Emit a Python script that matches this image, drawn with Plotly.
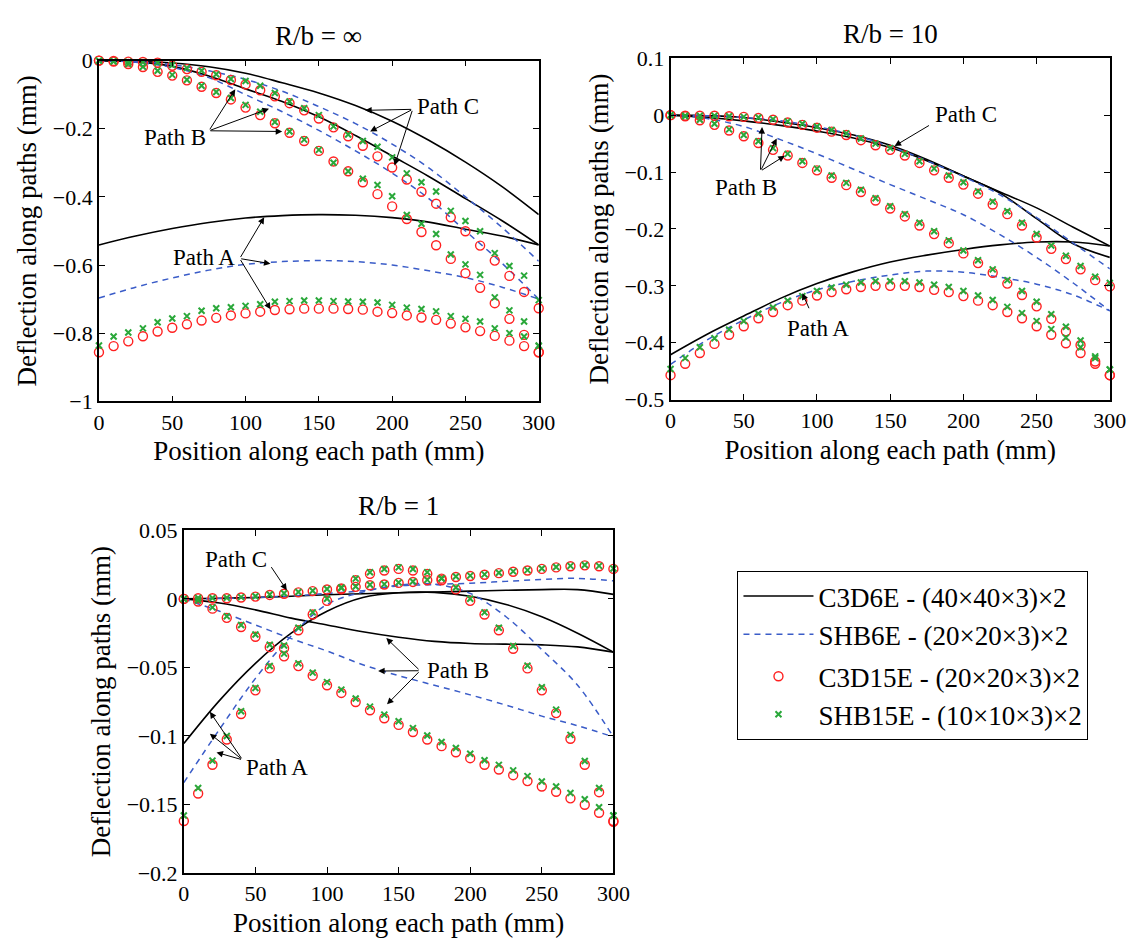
import plotly.graph_objects as go

# ---------------- data ----------------
LINE_X = list(range(0, 301, 25))
MARK_X = list(range(0, 301, 10))
X_TICKS = [0, 50, 100, 150, 200, 250, 300]

MODELS = ["C3D6E - (40×40×3)×2", "SHB6E - (20×20×3)×2",
          "C3D15E - (20×20×3)×2", "SHB15E - (10×10×3)×2"]
TITLES = ["R/b = ∞", "R/b = 10", "R/b = 1"]

# R/b = inf
inf_A_c3d6 = [-0.541, -0.515, -0.493, -0.475, -0.462, -0.455, -0.452, -0.454, -0.461, -0.474, -0.495, -0.515, -0.541]
inf_B_c3d6 = [0, -0.003, -0.017, -0.045, -0.083, -0.12, -0.165, -0.22, -0.28, -0.34, -0.405, -0.47, -0.541]
inf_C_c3d6 = [0, -0.002, -0.007, -0.018, -0.037, -0.065, -0.095, -0.132, -0.178, -0.234, -0.298, -0.37, -0.452]
inf_A_shb6 = [-0.697, -0.665, -0.638, -0.615, -0.598, -0.590, -0.587, -0.59, -0.60, -0.617, -0.637, -0.665, -0.70]
inf_B_shb6 = [0, -0.005, -0.02, -0.05, -0.1, -0.15, -0.205, -0.265, -0.33, -0.405, -0.50, -0.595, -0.70]
inf_C_shb6 = [0, -0.003, -0.012, -0.03, -0.055, -0.09, -0.135, -0.185, -0.245, -0.315, -0.40, -0.49, -0.589]
inf_A_c3d15 = [-0.856, -0.838, -0.824, -0.809, -0.795, -0.784, -0.774, -0.763, -0.755, -0.748, -0.742, -0.737, -0.732, -0.730, -0.728, -0.728, -0.728, -0.729, -0.731, -0.737, -0.741, -0.748, -0.754, -0.761, -0.772, -0.783, -0.794, -0.808, -0.822, -0.838, -0.856]
inf_B_c3d15 = [0, -0.003, -0.010, -0.019, -0.033, -0.044, -0.058, -0.077, -0.095, -0.114, -0.138, -0.160, -0.184, -0.212, -0.236, -0.265, -0.296, -0.325, -0.357, -0.392, -0.428, -0.465, -0.503, -0.542, -0.582, -0.624, -0.667, -0.712, -0.758, -0.805, -0.856]
inf_C_c3d15 = [0, -0.001, -0.003, -0.004, -0.006, -0.015, -0.025, -0.033, -0.043, -0.057, -0.070, -0.087, -0.105, -0.125, -0.146, -0.170, -0.196, -0.222, -0.250, -0.281, -0.314, -0.349, -0.385, -0.420, -0.460, -0.501, -0.543, -0.587, -0.632, -0.679, -0.727]
inf_A_shb15 = [-0.836, -0.810, -0.798, -0.786, -0.768, -0.757, -0.750, -0.734, -0.727, -0.724, -0.720, -0.715, -0.708, -0.706, -0.704, -0.704, -0.706, -0.707, -0.708, -0.710, -0.717, -0.725, -0.729, -0.736, -0.750, -0.758, -0.766, -0.786, -0.800, -0.810, -0.836]
inf_B_shb15 = [0, -0.003, -0.010, -0.018, -0.030, -0.042, -0.056, -0.074, -0.092, -0.110, -0.130, -0.150, -0.180, -0.208, -0.232, -0.262, -0.300, -0.325, -0.347, -0.365, -0.398, -0.453, -0.479, -0.509, -0.569, -0.598, -0.629, -0.695, -0.733, -0.766, -0.838]
inf_C_shb15 = [0, -0.001, -0.003, -0.004, -0.006, -0.013, -0.022, -0.030, -0.040, -0.054, -0.060, -0.074, -0.095, -0.120, -0.140, -0.160, -0.193, -0.217, -0.236, -0.253, -0.284, -0.331, -0.357, -0.384, -0.441, -0.471, -0.501, -0.565, -0.603, -0.631, -0.703]

# R/b = 10
r10_A_c3d6 = [-0.421, -0.385, -0.353, -0.322, -0.296, -0.275, -0.258, -0.246, -0.236, -0.228, -0.223, -0.223, -0.23]
r10_B_c3d6 = [0, -0.004, -0.01, -0.018, -0.028, -0.04, -0.057, -0.08, -0.107, -0.135, -0.163, -0.197, -0.23]
r10_C_c3d6 = [0, -0.001, -0.004, -0.012, -0.022, -0.035, -0.053, -0.078, -0.107, -0.137, -0.182, -0.226, -0.25]
r10_A_shb6 = [-0.438, -0.395, -0.36, -0.33, -0.307, -0.292, -0.281, -0.274, -0.276, -0.285, -0.297, -0.316, -0.344]
r10_B_shb6 = [0, -0.006, -0.02, -0.043, -0.068, -0.095, -0.122, -0.148, -0.175, -0.21, -0.25, -0.295, -0.344]
r10_C_shb6 = [0, -0.001, -0.004, -0.01, -0.02, -0.035, -0.055, -0.08, -0.108, -0.14, -0.18, -0.225, -0.27]
r10_A_c3d15 = [-0.457, -0.437, -0.418, -0.402, -0.386, -0.371, -0.357, -0.346, -0.334, -0.326, -0.317, -0.311, -0.306, -0.302, -0.300, -0.300, -0.300, -0.302, -0.307, -0.311, -0.318, -0.326, -0.334, -0.346, -0.357, -0.371, -0.386, -0.401, -0.418, -0.437, -0.457]
r10_B_c3d15 = [0, -0.002, -0.009, -0.017, -0.027, -0.037, -0.049, -0.061, -0.071, -0.084, -0.097, -0.110, -0.123, -0.135, -0.150, -0.164, -0.178, -0.194, -0.209, -0.225, -0.243, -0.260, -0.277, -0.296, -0.316, -0.336, -0.358, -0.380, -0.404, -0.433, -0.457]
r10_C_c3d15 = [0, -0.001, -0.001, -0.001, -0.002, -0.003, -0.005, -0.008, -0.013, -0.017, -0.022, -0.029, -0.035, -0.044, -0.053, -0.061, -0.071, -0.084, -0.097, -0.110, -0.122, -0.138, -0.157, -0.174, -0.194, -0.215, -0.235, -0.253, -0.271, -0.290, -0.301]
r10_A_shb15 = [-0.446, -0.427, -0.408, -0.392, -0.377, -0.362, -0.349, -0.338, -0.326, -0.318, -0.309, -0.303, -0.298, -0.294, -0.292, -0.292, -0.292, -0.294, -0.298, -0.302, -0.309, -0.317, -0.325, -0.337, -0.348, -0.362, -0.376, -0.391, -0.408, -0.427, -0.447]
r10_B_shb15 = [0, -0.002, -0.008, -0.015, -0.025, -0.035, -0.046, -0.058, -0.068, -0.081, -0.094, -0.106, -0.119, -0.131, -0.146, -0.160, -0.174, -0.189, -0.204, -0.220, -0.238, -0.255, -0.271, -0.290, -0.309, -0.328, -0.350, -0.372, -0.396, -0.424, -0.447]
r10_C_shb15 = [0, -0.001, -0.001, -0.001, -0.002, -0.003, -0.004, -0.007, -0.011, -0.015, -0.020, -0.026, -0.032, -0.041, -0.050, -0.058, -0.068, -0.081, -0.094, -0.106, -0.118, -0.134, -0.152, -0.169, -0.189, -0.209, -0.229, -0.247, -0.265, -0.284, -0.295]

# R/b = 1
r1_A_c3d6 = [-0.1055, -0.074, -0.047, -0.025, -0.009, 0.001, 0.0045, 0.0048, 0.002, -0.004, -0.013, -0.025, -0.0388]
r1_B_c3d6 = [0, -0.003, -0.008, -0.014, -0.019, -0.024, -0.028, -0.031, -0.0325, -0.033, -0.0335, -0.035, -0.0388]
r1_C_c3d6 = [0, 0.0005, 0.001, 0.002, 0.003, 0.0038, 0.0045, 0.005, 0.0057, 0.0063, 0.0068, 0.0068, 0.0033]
r1_A_shb6 = [-0.134, -0.095, -0.058, -0.027, -0.004, 0.005, 0.01, 0.0108, 0.004, -0.013, -0.037, -0.063, -0.1007]
r1_B_shb6 = [0, -0.009, -0.019, -0.029, -0.038, -0.048, -0.056, -0.063, -0.070, -0.0775, -0.0855, -0.0925, -0.1007]
r1_C_shb6 = [0, 0.0003, 0.001, 0.002, 0.004, 0.006, 0.0095, 0.0105, 0.0115, 0.0128, 0.0142, 0.015, 0.0132]
r1_A_c3d15 = [-0.162, -0.142, -0.121, -0.1026, -0.084, -0.0667, -0.0507, -0.036, -0.0229, -0.0114, -0.0014, 0.007, 0.0136, 0.0183, 0.0207, 0.0219, 0.0207, 0.0183, 0.0136, 0.007, -0.0014, -0.0114, -0.0229, -0.0364, -0.0507, -0.0667, -0.0833, -0.102, -0.121, -0.141, -0.162]
r1_B_c3d15 = [0, -0.0019, -0.0071, -0.0138, -0.0205, -0.0276, -0.0352, -0.0419, -0.049, -0.056, -0.063, -0.0686, -0.0752, -0.0812, -0.0871, -0.0919, -0.0971, -0.1026, -0.1074, -0.1119, -0.1162, -0.121, -0.1245, -0.1286, -0.1329, -0.1369, -0.1407, -0.1455, -0.1502, -0.156, -0.1626]
r1_C_c3d15 = [0, 0.0005, 0.0005, 0.0005, 0.001, 0.0017, 0.0029, 0.0038, 0.0048, 0.0057, 0.0069, 0.0076, 0.0088, 0.010, 0.0105, 0.0117, 0.0124, 0.0136, 0.0148, 0.016, 0.0167, 0.0176, 0.0188, 0.0198, 0.0207, 0.0219, 0.023, 0.0238, 0.0245, 0.0238, 0.0219]
r1_A_shb15 = [-0.158, -0.138, -0.118, -0.100, -0.082, -0.065, -0.049, -0.034, -0.021, -0.0098, 0.0001, 0.0083, 0.0148, 0.0194, 0.0218, 0.023, 0.0218, 0.0194, 0.0148, 0.0083, 0.0001, -0.0098, -0.021, -0.0344, -0.0487, -0.0645, -0.0808, -0.0992, -0.1183, -0.138, -0.158]
r1_B_shb15 = [0, -0.0012, -0.0062, -0.0126, -0.019, -0.026, -0.0334, -0.0399, -0.047, -0.0538, -0.0607, -0.0662, -0.0727, -0.0786, -0.0844, -0.0892, -0.0943, -0.0997, -0.1044, -0.1088, -0.113, -0.1177, -0.1211, -0.1251, -0.1293, -0.1332, -0.1369, -0.1416, -0.1462, -0.152, -0.158]
r1_C_shb15 = [0, 0.0007, 0.0007, 0.0008, 0.0013, 0.002, 0.0032, 0.0041, 0.0051, 0.006, 0.0072, 0.0079, 0.0091, 0.0103, 0.0108, 0.012, 0.0127, 0.0139, 0.0151, 0.0163, 0.017, 0.0179, 0.0191, 0.0201, 0.021, 0.0222, 0.0233, 0.0241, 0.0248, 0.0241, 0.0222]

# ---------------- figure ----------------
FONT = "Liberation Serif"
W, H = 1145, 942
BLACK = "#000000"
BLUE = "#3a5cc8"
RED = "#ff2020"
GREEN = "#2aa83a"

subplots = [
    ("x", "y", [inf_A_c3d6, inf_B_c3d6, inf_C_c3d6], [inf_A_shb6, inf_B_shb6, inf_C_shb6],
     [inf_A_c3d15, inf_B_c3d15, inf_C_c3d15], [inf_A_shb15, inf_B_shb15, inf_C_shb15]),
    ("x2", "y2", [r10_A_c3d6, r10_B_c3d6, r10_C_c3d6], [r10_A_shb6, r10_B_shb6, r10_C_shb6],
     [r10_A_c3d15, r10_B_c3d15, r10_C_c3d15], [r10_A_shb15, r10_B_shb15, r10_C_shb15]),
    ("x3", "y3", [r1_A_c3d6, r1_B_c3d6, r1_C_c3d6], [r1_A_shb6, r1_B_shb6, r1_C_shb6],
     [r1_A_c3d15, r1_B_c3d15, r1_C_c3d15], [r1_A_shb15, r1_B_shb15, r1_C_shb15]),
]

fig = go.Figure()
shown = set()


def add_line(xa, ya, ys, model, style):
    first = model not in shown
    shown.add(model)
    fig.add_trace(go.Scatter(
        x=LINE_X, y=ys, xaxis=xa, yaxis=ya, mode="lines", name=MODELS[model],
        line=style, line_shape="spline", legendgroup="lines", showlegend=first,
        hoverinfo="skip"))


def add_marks(xa, ya, ys, model, marker):
    first = model not in shown
    shown.add(model)
    fig.add_trace(go.Scatter(
        x=MARK_X, y=ys, xaxis=xa, yaxis=ya, mode="markers", name=MODELS[model],
        marker=marker, cliponaxis=False, legendgroup="marks", showlegend=first,
        hoverinfo="skip"))


for xa, ya, solid, dashed, circ, cross in subplots:
    for ys in solid:
        add_line(xa, ya, ys, 0, dict(color=BLACK, width=1.6))
    for ys in dashed:
        add_line(xa, ya, ys, 1, dict(color=BLUE, width=1.5, dash="6px,5px"))
for xa, ya, solid, dashed, circ, cross in subplots:
    for ys in circ:
        add_marks(xa, ya, ys, 2, dict(symbol="circle-open", size=9, color=RED,
                                      line=dict(color=RED, width=1.4)))
    for ys in cross:
        add_marks(xa, ya, ys, 3, dict(symbol="x-thin-open", size=6, color=GREEN,
                                      line=dict(color=GREEN, width=2)))


def dx(a, b):
    return [a / W, b / W]


def dy(top, bottom):
    return [1 - bottom / H, 1 - top / H]


axis_common = dict(showline=True, linecolor=BLACK, linewidth=1.6, mirror="ticks",
                   ticks="inside", ticklen=6, tickwidth=1.2, tickcolor=BLACK,
                   showgrid=False, zeroline=False,
                   tickfont=dict(family=FONT, size=22, color=BLACK))
xt = dict(text="Position along each path (mm)", font=dict(family=FONT, size=27, color=BLACK), standoff=8)
yt = dict(text="Deflection along paths (mm)", font=dict(family=FONT, size=27, color=BLACK), standoff=8)

fig.update_layout(
    width=W, height=H, margin=dict(l=0, r=0, t=0, b=0),
    paper_bgcolor="white", plot_bgcolor="white",
    font=dict(family=FONT, color=BLACK),
    xaxis=dict(domain=dx(86.7, 535.5), range=[0, 300], tickvals=X_TICKS, anchor="y", title=xt, **axis_common),
    yaxis=dict(domain=dy(41.7, 391.7), range=[-1, 0], dtick=0.2, anchor="x", title=yt, **axis_common),
    xaxis2=dict(domain=dx(670, 1118.3), range=[0, 300], tickvals=X_TICKS, anchor="y2", title=xt, **axis_common),
    yaxis2=dict(domain=dy(39.3, 390), range=[-0.5, 0.1], dtick=0.1, anchor="x2", title=yt, **axis_common),
    xaxis3=dict(domain=dx(173.3, 611.7), range=[0, 300], tickvals=X_TICKS, anchor="y3", title=xt, **axis_common),
    yaxis3=dict(domain=dy(524.3, 876.3), range=[-0.2, 0.05], dtick=0.05, anchor="x3", title=yt, **axis_common),
    legend=dict(x=738.3 / W, y=1 - 566 / H, xanchor="left", yanchor="top",
                bgcolor="white", bordercolor=BLACK, borderwidth=1,
                font=dict(family=FONT, size=27, color=BLACK),
                traceorder="grouped", tracegroupgap=4, itemwidth=70),
    showlegend=True,
)

# subplot titles
title_pos = [((86.7 + 535.5) / 2, 16.7), ((670 + 1118.3) / 2, 14.3), ((173.3 + 611.7) / 2, 499)]
for t, (px, py) in zip(TITLES, title_pos):
    fig.add_annotation(x=px / W, y=1 - py / H, xref="paper", yref="paper", text=t,
                       showarrow=False, xanchor="center", yanchor="middle",
                       font=dict(family=FONT, size=27, color=BLACK))

# path labels with arrows: (axis suffix, label, text pos, tail, [tips])
LABELS = [
    ("", "Path C", (238, -0.136), (214, -0.143), [(181.6, -0.146), (185, -0.208), (201.6, -0.308)]),
    ("", "Path B", (51.6, -0.225), (75, -0.206), [(93, -0.084), (116, -0.141), (125, -0.208)]),
    ("", "Path A", (71.6, -0.577), (96, -0.581), [(112.7, -0.46), (117, -0.596), (117, -0.73)]),
    ("2", "Path C", (202, 0.0017), (177.5, -0.0166), [(153, -0.0542)]),
    ("2", "Path B", (51.3, -0.127), (61.4, -0.0983), [(62.5, -0.021), (72.5, -0.041), (78, -0.0714)]),
    ("2", "Path A", (100.4, -0.3745), (95, -0.342), [(90, -0.313)]),
    ("3", "Path C", (36.5, 0.029), (60.4, 0.0243), [(71.9, 0.0064)]),
    ("3", "Path B", (191.6, -0.0524), (165, -0.0524), [(141.4, -0.0286), (135.7, -0.0526), (141.9, -0.0769)]),
    ("3", "Path A", (65, -0.123), (41, -0.1174), [(18.2, -0.0824), (18.2, -0.0983), (22.8, -0.112)]),
]
for sfx, label, tpos, tail, tips in LABELS:
    xr, yr = "x" + sfx, "y" + sfx
    fig.add_annotation(x=tpos[0], y=tpos[1], xref=xr, yref=yr, text=label, showarrow=False,
                       font=dict(family=FONT, size=23, color=BLACK), bgcolor="rgba(0,0,0,0)")
    for tip in tips:
        fig.add_annotation(x=tip[0], y=tip[1], xref=xr, yref=yr, ax=tail[0], ay=tail[1],
                           axref=xr, ayref=yr, text="", showarrow=True, arrowhead=2,
                           arrowsize=1.3, arrowwidth=1, arrowcolor=BLACK, standoff=0)

fig.write_html("out.html")
